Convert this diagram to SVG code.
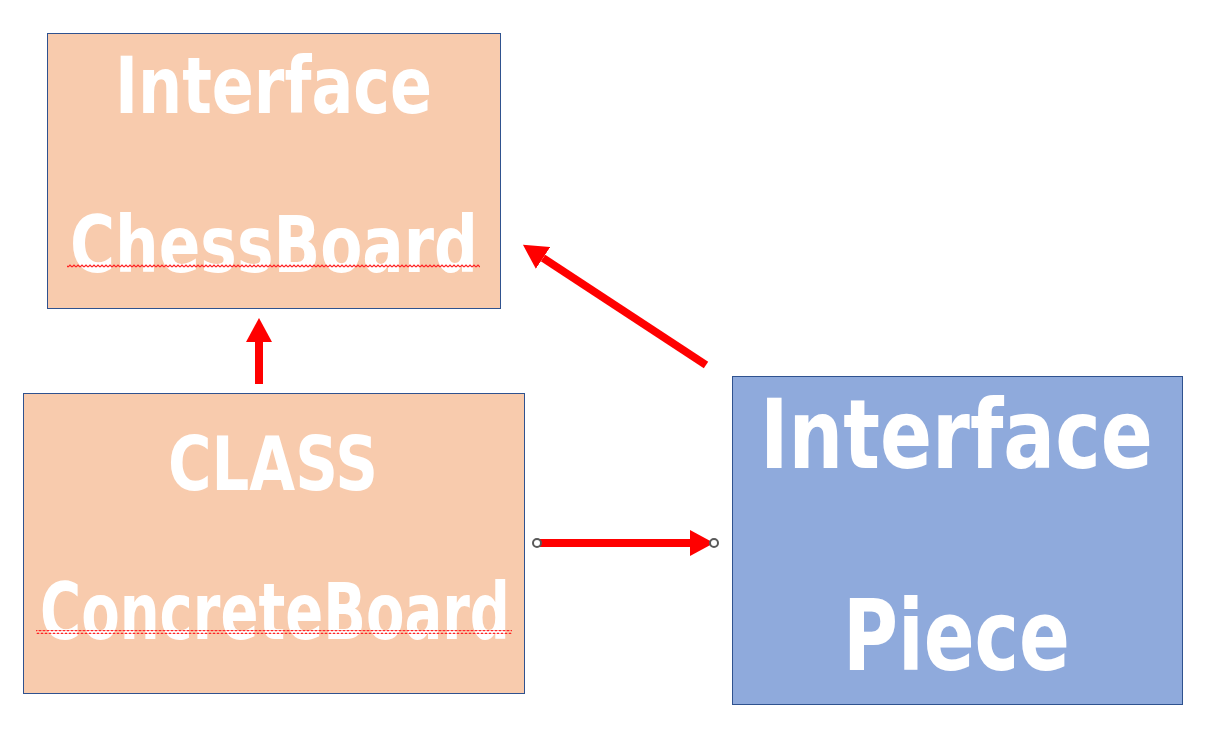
<svg xmlns="http://www.w3.org/2000/svg" width="1210" height="733" viewBox="0 0 1210 733">
<style>
.box{stroke:#2F528F;stroke-width:1}
.peach{fill:#F8CBAD}
.blue{fill:#8FAADC}
.t{font-family:"DejaVu Sans","Liberation Sans",sans-serif;font-weight:bold;fill:#FFFFFF}
.conn{stroke:#FF0000;stroke-width:8;fill:none}
.handle{fill:#FFFFFF;stroke:#595959;stroke-width:2}
</style>
<defs>
<marker id="ah" markerUnits="userSpaceOnUse" markerWidth="24" markerHeight="26" refX="0" refY="13" orient="auto" viewBox="0 0 24 26">
<path d="M0,0 L24,13 L0,26 Z" fill="#FF0000"/>
</marker>
<pattern id="squig" x="0" y="0" width="4" height="4" patternUnits="userSpaceOnUse">
<polyline points="0,3 2,1 4,3" fill="none" stroke="#FF2020" stroke-width="1.2"/>
</pattern>
</defs>
<rect width="1210" height="733" fill="#FFFFFF"/>

<g id="chessboard">
<rect class="box peach" x="47.5" y="33.5" width="453" height="275"/>
<text class="t" x="115" y="113" font-size="78" textLength="317" lengthAdjust="spacingAndGlyphs">Interface</text>
<text class="t" x="70" y="272" font-size="78" textLength="408" lengthAdjust="spacingAndGlyphs">ChessBoard</text>
<rect x="67" y="264" width="413" height="4" fill="url(#squig)"/>
</g>

<g id="concreteboard">
<rect class="box peach" x="23.5" y="393.5" width="501" height="300"/>
<text class="t" x="168" y="490" font-size="74" textLength="210" lengthAdjust="spacingAndGlyphs">CLASS</text>
<text class="t" x="40" y="639" font-size="78" textLength="470" lengthAdjust="spacingAndGlyphs">ConcreteBoard</text>
<rect x="36" y="630" width="476" height="4" fill="url(#squig)"/>
</g>

<g id="piece">
<rect class="box blue" x="732.5" y="376.5" width="450" height="328"/>
<text class="t" transform="translate(760,468) scale(0.8,1)" x="0" y="0" font-size="96" textLength="491" lengthAdjust="spacingAndGlyphs">Interface</text>
<text class="t" x="843" y="670" font-size="98" textLength="227" lengthAdjust="spacingAndGlyphs">Piece</text>
</g>

<g id="connectors">
<line class="conn" x1="259" y1="384" x2="259" y2="342" marker-end="url(#ah)"/>
<line class="conn" x1="706" y1="365" x2="543" y2="258" marker-end="url(#ah)"/>
<line class="conn" x1="537" y1="543" x2="690" y2="543" marker-end="url(#ah)"/>
<circle class="handle" cx="537" cy="543" r="4"/>
<circle class="handle" cx="714" cy="543" r="4"/>
</g>
</svg>
